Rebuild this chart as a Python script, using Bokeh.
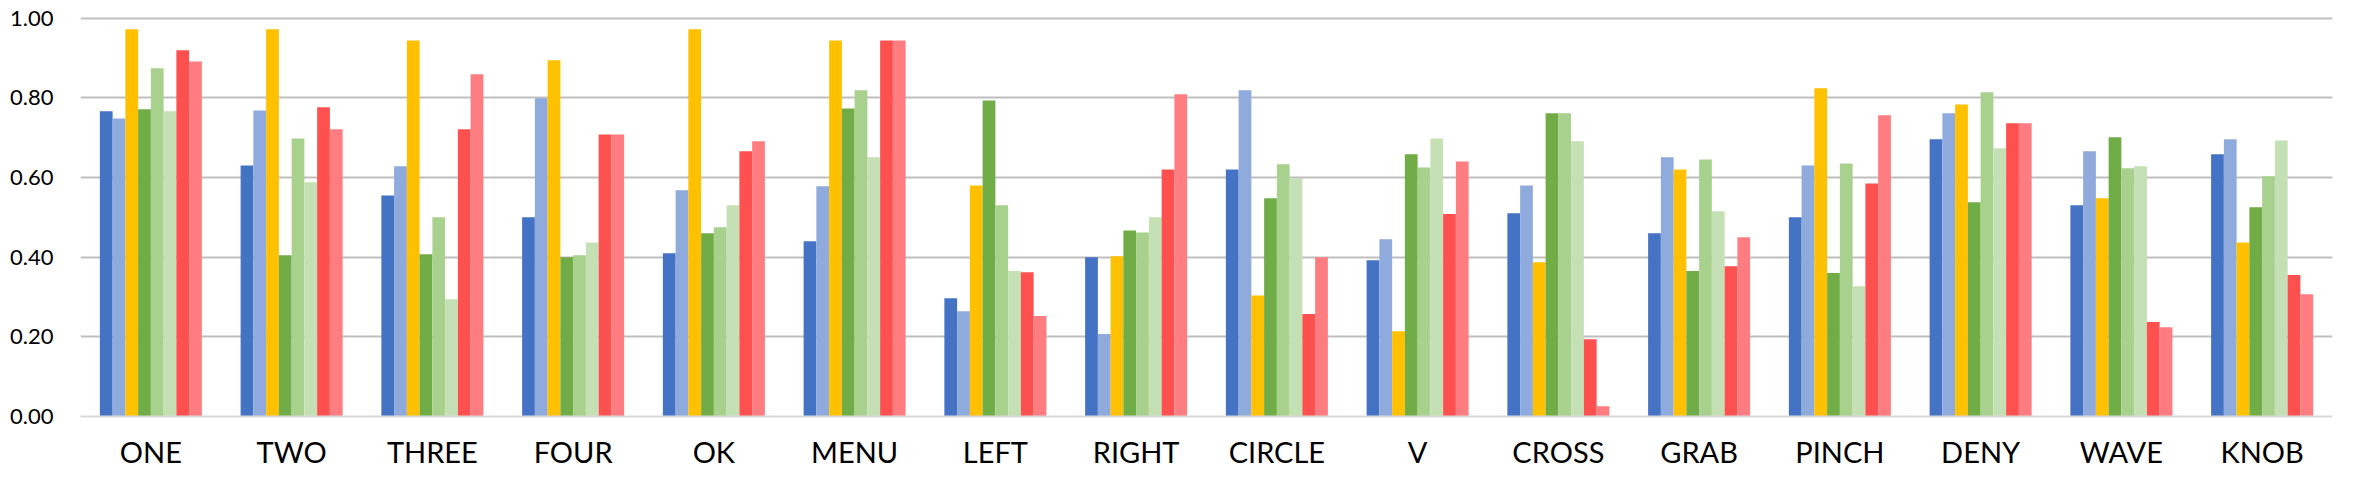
from bokeh.plotting import figure
from bokeh.models import ColumnDataSource, FactorRange, Range1d, SingleIntervalTicker, NumeralTickFormatter
from bokeh.transform import dodge
from bokeh.embed import file_html
from bokeh.resources import INLINE

categories = ["ONE", "TWO", "THREE", "FOUR", "OK", "MENU", "LEFT", "RIGHT",
              "CIRCLE", "V", "CROSS", "GRAB", "PINCH", "DENY", "WAVE", "KNOB"]

series_1 = [0.766, 0.630, 0.555, 0.500, 0.410, 0.440, 0.297, 0.400,
            0.620, 0.392, 0.510, 0.460, 0.500, 0.696, 0.530, 0.658]
series_2 = [0.748, 0.768, 0.628, 0.799, 0.568, 0.578, 0.264, 0.207,
            0.819, 0.445, 0.580, 0.651, 0.630, 0.761, 0.666, 0.696]
series_3 = [0.972, 0.972, 0.944, 0.894, 0.972, 0.944, 0.580, 0.402,
            0.304, 0.214, 0.387, 0.620, 0.824, 0.783, 0.548, 0.437]
series_4 = [0.771, 0.405, 0.407, 0.400, 0.460, 0.773, 0.793, 0.467,
            0.548, 0.658, 0.761, 0.365, 0.360, 0.538, 0.701, 0.525]
series_5 = [0.874, 0.698, 0.500, 0.405, 0.475, 0.819, 0.530, 0.462,
            0.633, 0.625, 0.761, 0.645, 0.635, 0.814, 0.623, 0.603]
series_6 = [0.766, 0.588, 0.294, 0.437, 0.530, 0.651, 0.365, 0.500,
            0.598, 0.698, 0.691, 0.515, 0.327, 0.673, 0.628, 0.693]
series_7 = [0.919, 0.776, 0.721, 0.708, 0.666, 0.944, 0.362, 0.620,
            0.257, 0.508, 0.194, 0.377, 0.585, 0.736, 0.237, 0.355]
series_8 = [0.891, 0.721, 0.859, 0.708, 0.691, 0.944, 0.252, 0.809,
            0.400, 0.640, 0.026, 0.450, 0.756, 0.736, 0.224, 0.307]

series_names = ["series_1", "series_2", "series_3", "series_4",
                "series_5", "series_6", "series_7", "series_8"]
series_values = [series_1, series_2, series_3, series_4,
                 series_5, series_6, series_7, series_8]
colors = ["#4472C4", "#8FAADC", "#FFC000", "#70AD47",
          "#A9D18E", "#C5E0B4", "#FF5050", "#FF7C80"]

data = {"cat": categories}
for name, vals in zip(series_names, series_values):
    data[name] = vals
source = ColumnDataSource(data)

p = figure(x_range=FactorRange(factors=categories, range_padding=0),
           y_range=Range1d(0, 1.004),
           width=2338, height=474,
           output_backend="svg", toolbar_location=None,
           min_border_left=80, min_border_right=6,
           min_border_top=16, min_border_bottom=58)

bar_w = 0.0906
n = len(series_names)
for i, (name, col) in enumerate(zip(series_names, colors)):
    off = (i - (n - 1) / 2) * bar_w
    p.vbar(x=dodge("cat", off, range=p.x_range), top=name, width=bar_w,
           source=source, fill_color=col, line_color=None)

p.outline_line_color = None
p.background_fill_color = "white"
p.border_fill_color = "white"
p.xgrid.grid_line_color = None
p.ygrid.grid_line_color = "#BFBFBF"
p.ygrid.grid_line_width = 2

p.yaxis.ticker = SingleIntervalTicker(interval=0.2, num_minor_ticks=0)
p.yaxis.formatter = NumeralTickFormatter(format="0.00")
p.yaxis.axis_line_color = None
p.yaxis.major_tick_line_color = None
p.yaxis.minor_tick_line_color = None
p.yaxis.major_tick_out = 0
p.yaxis.major_tick_in = 0
p.yaxis.major_label_standoff = 27
p.yaxis.major_label_text_font = "Lato"
p.yaxis.major_label_text_font_size = "22px"
p.yaxis.major_label_text_color = "#000000"

p.xaxis.axis_line_color = "#D9D9D9"
p.xaxis.axis_line_width = 2
p.xaxis.major_tick_line_color = None
p.xaxis.minor_tick_line_color = None
p.xaxis.major_tick_out = 0
p.xaxis.major_tick_in = 0
p.xaxis.major_label_standoff = 17
p.xaxis.major_label_text_font = "Lato"
p.xaxis.major_label_text_font_size = "29px"
p.xaxis.major_label_text_color = "#000000"

open("out.html", "w").write(file_html(p, INLINE))
